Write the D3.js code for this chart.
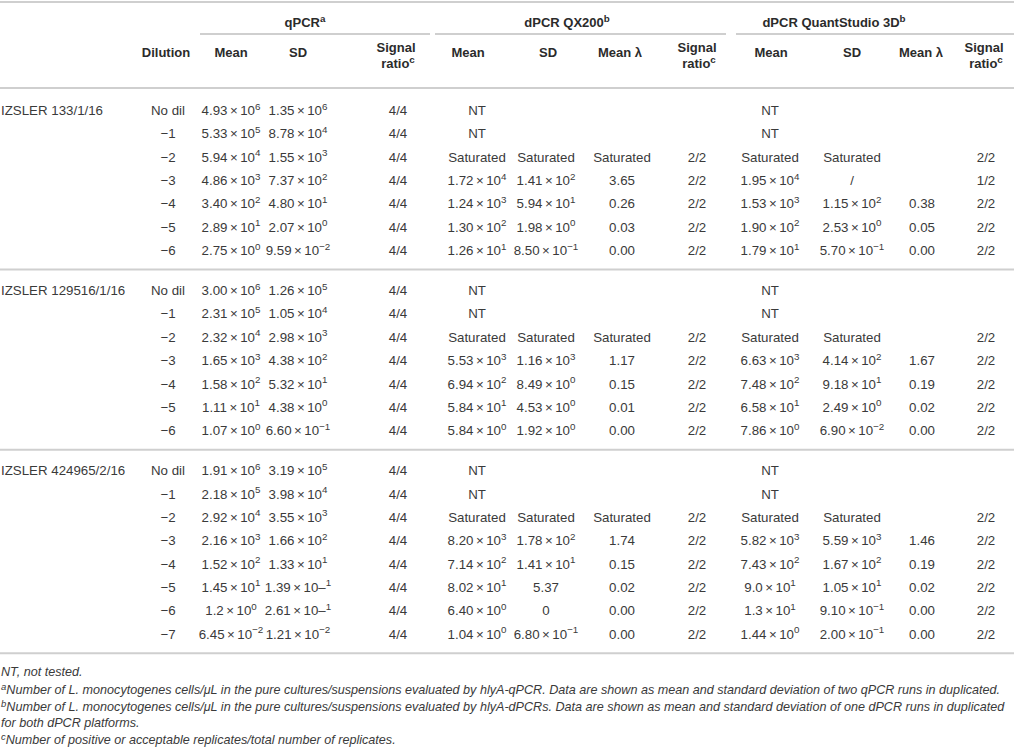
<!DOCTYPE html>
<html>
<head>
<meta charset="utf-8">
<script src="https://cdn.jsdelivr.net/npm/d3@7/dist/d3.min.js"></script>
<style>
  body { margin: 0; background: #fff; }
  svg { display: block; }
  text { font-family: "Liberation Sans", Arial, sans-serif; fill: #3a3a3a; font-size: 13.3px; }
  .hd { font-weight: bold; fill: #2b2b2b; font-size: 13px; }
  .fn { font-style: italic; font-size: 12.6px; }
</style>
</head>
<body>
<svg id="tbl" width="1014" height="748"></svg>
<script>
var strains = ['IZSLER 133/1/16', 'IZSLER 129516/1/16', 'IZSLER 424965/2/16'];
var dilutions = [
  ['No dil', '−1', '−2', '−3', '−4', '−5', '−6'],
  ['No dil', '−1', '−2', '−3', '−4', '−5', '−6'],
  ['No dil', '−1', '−2', '−3', '−4', '−5', '−6', '−7']
];
var qpcrMean = [
  ['4.93e6', '5.33e5', '5.94e4', '4.86e3', '3.40e2', '2.89e1', '2.75e0'],
  ['3.00e6', '2.31e5', '2.32e4', '1.65e3', '1.58e2', '1.11e1', '1.07e0'],
  ['1.91e6', '2.18e5', '2.92e4', '2.16e3', '1.52e2', '1.45e1', '1.2e0', '6.45e-2']
];
var qpcrSD = [
  ['1.35e6', '8.78e4', '1.55e3', '7.37e2', '4.80e1', '2.07e0', '9.59e-2'],
  ['1.26e5', '1.05e4', '2.98e3', '4.38e2', '5.32e1', '4.38e0', '6.60e-1'],
  ['3.19e5', '3.98e4', '3.55e3', '1.66e2', '1.33e1', '1.39e–1', '2.61e–1', '1.21e-2']
];
var qpcrSignal = [
  ['4/4', '4/4', '4/4', '4/4', '4/4', '4/4', '4/4'],
  ['4/4', '4/4', '4/4', '4/4', '4/4', '4/4', '4/4'],
  ['4/4', '4/4', '4/4', '4/4', '4/4', '4/4', '4/4', '4/4']
];
var qxMean = [
  ['NT', 'NT', 'Saturated', '1.72e4', '1.24e3', '1.30e2', '1.26e1'],
  ['NT', 'NT', 'Saturated', '5.53e3', '6.94e2', '5.84e1', '5.84e0'],
  ['NT', 'NT', 'Saturated', '8.20e3', '7.14e2', '8.02e1', '6.40e0', '1.04e0']
];
var qxSD = [
  ['', '', 'Saturated', '1.41e2', '5.94e1', '1.98e0', '8.50e-1'],
  ['', '', 'Saturated', '1.16e3', '8.49e0', '4.53e0', '1.92e0'],
  ['', '', 'Saturated', '1.78e2', '1.41e1', '5.37', '0', '6.80e-1']
];
var qxLambda = [
  ['', '', 'Saturated', '3.65', '0.26', '0.03', '0.00'],
  ['', '', 'Saturated', '1.17', '0.15', '0.01', '0.00'],
  ['', '', 'Saturated', '1.74', '0.15', '0.02', '0.00', '0.00']
];
var qxSignal = [
  ['', '', '2/2', '2/2', '2/2', '2/2', '2/2'],
  ['', '', '2/2', '2/2', '2/2', '2/2', '2/2'],
  ['', '', '2/2', '2/2', '2/2', '2/2', '2/2', '2/2']
];
var qsMean = [
  ['NT', 'NT', 'Saturated', '1.95e4', '1.53e3', '1.90e2', '1.79e1'],
  ['NT', 'NT', 'Saturated', '6.63e3', '7.48e2', '6.58e1', '7.86e0'],
  ['NT', 'NT', 'Saturated', '5.82e3', '7.43e2', '9.0e1', '1.3e1', '1.44e0']
];
var qsSD = [
  ['', '', 'Saturated', '/', '1.15e2', '2.53e0', '5.70e-1'],
  ['', '', 'Saturated', '4.14e2', '9.18e1', '2.49e0', '6.90e-2'],
  ['', '', 'Saturated', '5.59e3', '1.67e2', '1.05e1', '9.10e-1', '2.00e-1']
];
var qsLambda = [
  ['', '', '', '', '0.38', '0.05', '0.00'],
  ['', '', '', '1.67', '0.19', '0.02', '0.00'],
  ['', '', '', '1.46', '0.19', '0.02', '0.00', '0.00']
];
var qsSignal = [
  ['', '', '2/2', '1/2', '2/2', '2/2', '2/2'],
  ['', '', '2/2', '2/2', '2/2', '2/2', '2/2'],
  ['', '', '2/2', '2/2', '2/2', '2/2', '2/2', '2/2']
];
var groupHeads = ['qPCR^a', 'dPCR QX200^b', 'dPCR QuantStudio 3D^b'];
var colHeads = ['Dilution', 'Mean', 'SD', 'Signal|ratio^c', 'Mean', 'SD', 'Mean λ', 'Signal|ratio^c',
                'Mean', 'SD', 'Mean λ', 'Signal|ratio^c'];
var footnotes = [
  'NT, not tested.',
  '^aNumber of L. monocytogenes cells/μL in the pure cultures/suspensions evaluated by hlyA-qPCR. Data are shown as mean and standard deviation of two qPCR runs in duplicated.',
  '^bNumber of L. monocytogenes cells/μL in the pure cultures/suspensions evaluated by hlyA-dPCRs. Data are shown as mean and standard deviation of one dPCR runs in duplicated',
  'for both dPCR platforms.',
  '^cNumber of positive or acceptable replicates/total number of replicates.'
];

var columns = [dilutions, qpcrMean, qpcrSD, qpcrSignal, qxMean, qxSD, qxLambda, qxSignal,
               qsMean, qsSD, qsLambda, qsSignal];

// ---- layout ----
var W = 1014;
var svg = d3.select('#tbl');
var colIdx = d3.range(columns.length);
var xVal = d3.scaleOrdinal(colIdx, [168, 231, 298, 398, 477, 546, 622, 697, 770, 852, 922, 986]);
var xHead = d3.scaleOrdinal(colIdx, [166, 231, 298, 396, 468, 548, 620, 697, 771, 852, 921, 984]);
var pitch = 23.35;
var rowY = d3.scaleLinear().domain([0, 1]).range([0, pitch]);

// group start positions
var groupTop = [];
var y0 = 110;
strains.forEach(function (s, g) {
  groupTop.push(y0);
  y0 = y0 + rowY(dilutions[g].length - 1) + 40;
});
var sepY = groupTop.map(function (t, g) { return t + rowY(dilutions[g].length - 1) + 19.5; });

// "4.93e6" -> ["4.93", "10", "6"] ; others -> [text]
function sci(s) {
  var m = /^([\d.]+)e(–?)(-?\d+)$/.exec(s);
  if (!m) return null;
  return [m[1], '10' + m[2], m[3].replace('-', '−')];
}
function sup(sel, s, size, dy) {
  sel.append('tspan').attr('dy', dy || -5.5).style('font-size', size || '9.8px').text(s);
}
function cell(sel, d) {
  var p = sci(d);
  if (!p) { sel.text(d); return; }
  sel.append('tspan').text(p[0]);
  sel.append('tspan').attr('dx', 2.5).text('×');
  sel.append('tspan').attr('dx', 2.5).text(p[1]);
  sup(sel, p[2]);
}

function hline(y, x1, x2) {
  svg.append('line').attr('x1', x1).attr('x2', x2).attr('y1', y).attr('y2', y)
    .attr('stroke', '#cfcfcf').attr('stroke-width', 2);
}

// rules
hline(2, 0, W);
[[200, 430], [435, 726], [736, W]].forEach(function (r) { hline(34, r[0], r[1]); });
hline(88, 0, W);
sepY.forEach(function (y) { hline(y, 0, W); });

// group headers
var ghX = [305, 567, 834];
groupHeads.forEach(function (h, i) {
  var p = h.split('^');
  var t = svg.append('text').attr('class', 'hd').attr('text-anchor', 'middle')
    .attr('x', ghX[i]).attr('y', 27);
  t.append('tspan').text(p[0]);
  sup(t, p[1]);
});

// column headers
colHeads.forEach(function (h, i) {
  var lines = h.split('|');
  lines.forEach(function (ln, k) {
    var p = ln.split('^');
    var yy = lines.length === 1 ? 57 : 52 + k * 16;
    var t = svg.append('text').attr('class', 'hd').attr('text-anchor', 'middle')
      .attr('x', xHead(i) + (p[1] ? 2 : 0)).attr('y', yy);
    t.append('tspan').text(p[0]);
    if (p[1]) sup(t, p[1]);
  });
});

// body
strains.forEach(function (s, g) {
  svg.append('text').attr('x', 1).attr('y', groupTop[g] + 5).text(s);
  columns.forEach(function (col, c) {
    svg.append('g').selectAll('text').data(col[g]).join('text')
      .attr('text-anchor', 'middle')
      .attr('x', xVal(c))
      .attr('y', function (d, i) { return groupTop[g] + rowY(i) + 5; })
      .each(function (d) { cell(d3.select(this), d); });
  });
});

// footnotes
var fnY = [672, 690, 707, 723, 740];
footnotes.forEach(function (f, i) {
  var t = svg.append('text').attr('class', 'fn').attr('x', 1).attr('y', fnY[i] + 4);
  if (f.charAt(0) === '^') {
    t.append('tspan').attr('dy', -4).style('font-size', '9.5px').text(f.charAt(1));
    t.append('tspan').attr('dy', 4).text(f.slice(2));
  } else {
    t.text(f);
  }
});
</script>
</body>
</html>
